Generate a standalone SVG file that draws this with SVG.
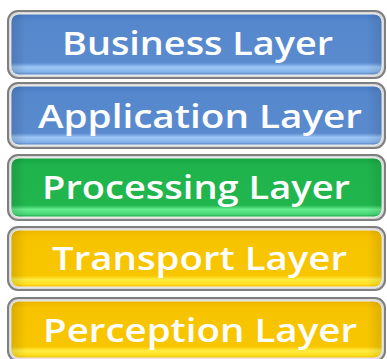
<svg xmlns="http://www.w3.org/2000/svg" width="387" height="359" viewBox="0 0 387 359">
<defs>
<linearGradient id="gBlue" x1="0" y1="0" x2="0" y2="1">
<stop offset="0" stop-color="#4779c2"/>
<stop offset="0.12" stop-color="#5587cc"/>
<stop offset="0.8" stop-color="#5a8bcf"/>
<stop offset="0.87" stop-color="#9cc6f5"/>
<stop offset="0.95" stop-color="#86b4ea"/>
<stop offset="1" stop-color="#4f7fc0"/>
</linearGradient>
<linearGradient id="gGreen" x1="0" y1="0" x2="0" y2="1">
<stop offset="0" stop-color="#14a541"/>
<stop offset="0.12" stop-color="#1fb34c"/>
<stop offset="0.8" stop-color="#22b64e"/>
<stop offset="0.87" stop-color="#66ec90"/>
<stop offset="0.95" stop-color="#4ad878"/>
<stop offset="1" stop-color="#1aa845"/>
</linearGradient>
<linearGradient id="gYellow" x1="0" y1="0" x2="0" y2="1">
<stop offset="0" stop-color="#ecb400"/>
<stop offset="0.12" stop-color="#f7c300"/>
<stop offset="0.8" stop-color="#f8c600"/>
<stop offset="0.87" stop-color="#ffec40"/>
<stop offset="0.95" stop-color="#ffdf22"/>
<stop offset="1" stop-color="#f0bb00"/>
</linearGradient>
<linearGradient id="gEdge" x1="0" y1="0" x2="1" y2="0">
<stop offset="0" stop-color="#000" stop-opacity="0.12"/>
<stop offset="0.04" stop-color="#000" stop-opacity="0"/>
<stop offset="0.96" stop-color="#000" stop-opacity="0"/>
<stop offset="1" stop-color="#000" stop-opacity="0.1"/>
</linearGradient>
</defs>
<style>
.frame{fill:#d9d9d9;stroke:#7f7f7f;stroke-width:2}
.inner{stroke:#f2f2f2;stroke-width:1}
.edge{fill:url(#gEdge)}
.lbl{font-family:"Open Sans","Noto Sans",sans-serif;font-size:33px;font-weight:600;fill:#ffffff;text-anchor:middle}
</style>
<g id="business-layer">
<rect class="frame" x="8" y="11" width="377" height="67" rx="10"/>
<rect class="inner" x="11" y="14" width="371" height="61" rx="8" fill="url(#gBlue)"/>
<rect class="edge" x="11" y="14" width="371" height="61" rx="8"/>
<text class="lbl" x="197.5" y="55" textLength="271" lengthAdjust="spacingAndGlyphs">Business Layer</text>
</g>
<g id="application-layer">
<rect class="frame" x="8" y="83" width="377" height="65" rx="10"/>
<rect class="inner" x="11" y="86" width="371" height="59" rx="8" fill="url(#gBlue)"/>
<rect class="edge" x="11" y="86" width="371" height="59" rx="8"/>
<text class="lbl" x="200" y="128" textLength="324" lengthAdjust="spacingAndGlyphs">Application Layer</text>
</g>
<g id="processing-layer">
<rect class="frame" x="8" y="155" width="377" height="65" rx="10"/>
<rect class="inner" x="11" y="158" width="371" height="59" rx="8" fill="url(#gGreen)"/>
<rect class="edge" x="11" y="158" width="371" height="59" rx="8"/>
<text class="lbl" x="196" y="199" textLength="308" lengthAdjust="spacingAndGlyphs">Processing Layer</text>
</g>
<g id="transport-layer">
<rect class="frame" x="8" y="227" width="377" height="63" rx="10"/>
<rect class="inner" x="11" y="230" width="371" height="57" rx="8" fill="url(#gYellow)"/>
<rect class="edge" x="11" y="230" width="371" height="57" rx="8"/>
<text class="lbl" x="199.5" y="270" textLength="295" lengthAdjust="spacingAndGlyphs">Transport Layer</text>
</g>
<g id="perception-layer">
<rect class="frame" x="8" y="298" width="377" height="63" rx="10"/>
<rect class="inner" x="11" y="301" width="371" height="57" rx="8" fill="url(#gYellow)"/>
<rect class="edge" x="11" y="301" width="371" height="57" rx="8"/>
<text class="lbl" x="200" y="342" textLength="314" lengthAdjust="spacingAndGlyphs">Perception Layer</text>
</g>
</svg>
